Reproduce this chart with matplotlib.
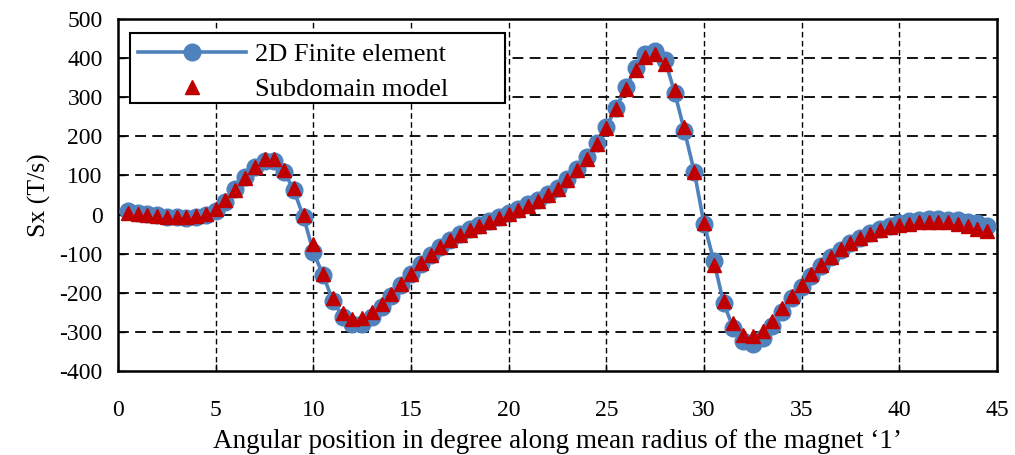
import matplotlib
matplotlib.use("Agg")
import matplotlib.pyplot as plt
from matplotlib.patches import Rectangle
import numpy as np

# Angular position (degrees)
angle = [0.5 * k for k in range(1, 90)]

# 2D Finite element (circles, blue line)
fe = [8, 5, 2, -2, -5, -7, -8, -6, -1, 10,
      33, 65, 96, 122, 138, 136, 110, 62, -6, -96,
      -155, -220, -262, -279, -281, -262, -236, -209, -181, -153,
      -127, -104, -84, -65, -49, -37, -26, -16, -6, 4,
      15, 26, 38, 52, 69, 91, 116, 146, 183, 225,
      272, 325, 375, 410, 418, 395, 312, 214, 110, -23,
      -118, -226, -290, -324, -332, -315, -285, -250, -214, -184,
      -156, -131, -109, -90, -74, -60, -47, -37, -29, -22,
      -17, -14, -12, -12, -13, -15, -18, -22, -30]

# Subdomain model (red triangles)
sd = [3, 2, -1, -3, -5, -6, -6, -4, 1, 13,
      36, 63, 93, 121, 143, 142, 115, 68, -2, -76,
      -152, -213, -252, -266, -265, -250, -229, -204, -177, -151,
      -125, -103, -84, -66, -51, -40, -29, -19, -9, 1,
      12, 23, 35, 49, 66, 88, 113, 143, 180, 222,
      270, 322, 370, 403, 411, 386, 318, 225, 108, -21,
      -129, -222, -277, -307, -311, -298, -273, -239, -209, -179,
      -153, -129, -108, -89, -74, -61, -49, -40, -33, -27,
      -23, -20, -19, -19, -20, -25, -29, -36, -43]

xticks = [0, 5, 10, 15, 20, 25, 30, 35, 40, 45]
yticks = [-400, -300, -200, -100, 0, 100, 200, 300, 400, 500]

plt.rcParams['font.family'] = ['Liberation Serif', 'DejaVu Serif']
plt.rcParams['axes.unicode_minus'] = False

fig = plt.figure(figsize=(10.15, 4.55), dpi=100)
ax = fig.add_axes([118 / 1015, 1 - 371 / 455, (997 - 118) / 1015, (371 - 19) / 455])

blue = '#4F81BD'
red = '#C00000'

ax.plot(angle, fe, color=blue, lw=2.6, marker='o', markersize=12,
        markerfacecolor=blue, markeredgecolor=blue, label='2D Finite element', zorder=3)
ax.plot(angle, sd, linestyle='none', marker='^', markersize=10,
        markerfacecolor=red, markeredgecolor=red, label='Subdomain model', zorder=4)

ax.set_xlim(0, 45)
ax.set_ylim(-400, 500)
ax.set_xticks(xticks)
ax.set_yticks(yticks)

for y in yticks[1:-1]:
    ax.axhline(y, color='black', lw=1.3, linestyle=(0, (6, 3.5)), zorder=1)
for x in xticks[1:-1]:
    ax.axvline(x, color='black', lw=1.0, linestyle=(0, (4, 2.5)), zorder=1)

for s in ax.spines.values():
    s.set_linewidth(1.8)
    s.set_color('black')

ax.tick_params(direction='in', length=5, width=1, labelsize=17)
ax.tick_params(axis='x', pad=21)
ax.tick_params(axis='y', pad=11)

ax.set_xlabel('Angular position in degree along mean radius of the magnet \u20181\u2019', fontsize=19.5, labelpad=6)
ax.set_ylabel('Sx (T/s)', fontsize=18.5, labelpad=6)

# legend frame (wider box as in the reference)
x0 = (130 - 118) / 879
x1 = (505 - 118) / 879
ytop = (371 - 33) / 352
ybot = (371 - 103) / 352
frame = Rectangle((x0, ybot), x1 - x0, ytop - ybot, transform=ax.transAxes,
                  facecolor='white', edgecolor='black', lw=1.5, zorder=9)
ax.add_patch(frame)

leg = ax.legend(loc='upper left', bbox_to_anchor=(x0, ytop - 0.005), fontsize=19,
                frameon=False, borderpad=0.3, handlelength=4.1,
                handletextpad=0.35, labelspacing=0.45, borderaxespad=0.0)
leg.set_zorder(10)

fig.savefig('out.png', dpi=100)
